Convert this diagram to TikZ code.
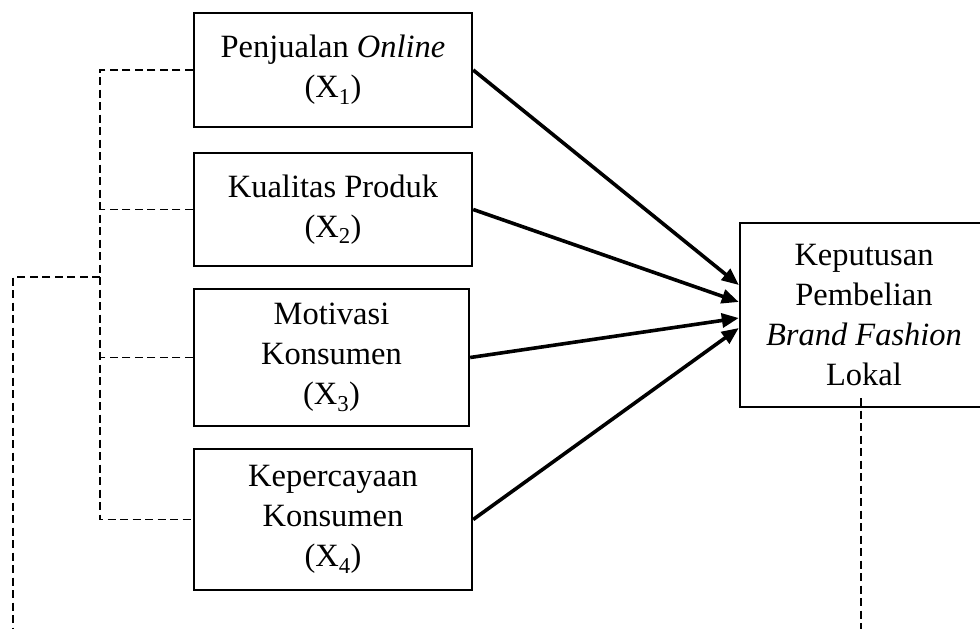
\documentclass[tikz,border=0pt]{standalone}
\usepackage{fontspec}
\setmainfont{Liberation Serif}
\usetikzlibrary{arrows.meta}
\begin{document}
\begin{tikzpicture}[x=1pt,y=-1pt,
  box/.style={draw, line width=2.4pt, align=center, inner sep=0pt, font=\fontsize{32.5}{40}\selectfont},
  link/.style={line width=3.6pt, -{Triangle[length=17pt,width=14pt]}},
  dashline/.style={line width=1.8pt, dash pattern=on 8pt off 4.5pt}]
\useasboundingbox (0,0) rectangle (980,629);
\node[box, minimum width=278pt, minimum height=114pt] (x1) at (333,70) {Penjualan \textit{Online}\\(X\textsubscript{1})};
\node[box, minimum width=278pt, minimum height=113pt] (x2) at (333,209.5) {Kualitas Produk\\(X\textsubscript{2})};
\node[box, minimum width=275pt, minimum height=137pt] (x3) at (331.5,357.5) {Motivasi\\Konsumen\\(X\textsubscript{3})};
\node[box, minimum width=278pt, minimum height=141pt] (x4) at (333,519.5) {Kepercayaan\\Konsumen\\(X\textsubscript{4})};
\node[box, minimum width=248pt, minimum height=184pt] (y) at (864,315) {Keputusan\\Pembelian\\\textit{Brand Fashion}\\Lokal};
\coordinate (v) at (100,0);
\coordinate (j) at (100,277);
\coordinate (l) at (13,629);
\coordinate (r) at (861,629);
\draw[dashline] (x1.west) -- (x1.west -| v) -- (x4.west -| v) -- (x4.west);
\draw[dashline] (x2.west) -- (x2.west -| v);
\draw[dashline] (x3.west) -- (x3.west -| v);
\draw[dashline] (j) -| (l);
\draw[dashline] ([yshift=10pt]y.south -| r) -- (r);
\draw[link] (x1.east) -- ([yshift=30pt]y.west);
\draw[link] (x2.east) -- ([yshift=13pt]y.west);
\draw[link] (x3.east) -- ([yshift=-3pt]y.west);
\draw[link] (x4.east) -- ([yshift=-13pt]y.west);
\end{tikzpicture}
\end{document}
